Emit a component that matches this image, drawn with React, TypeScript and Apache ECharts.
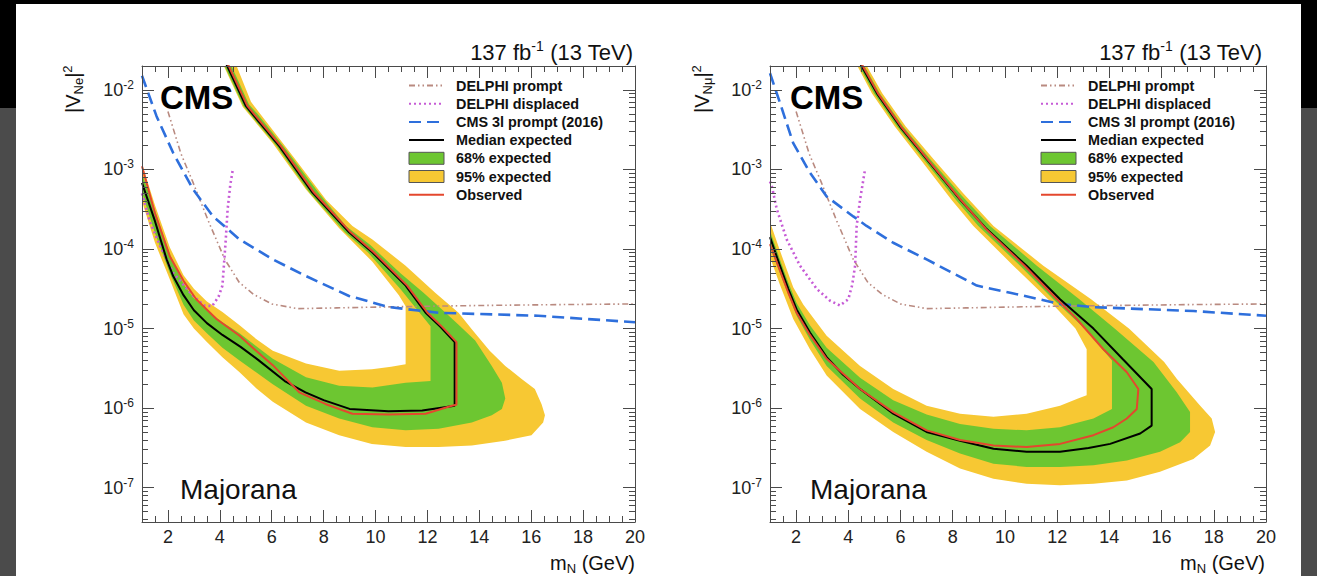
import React, { useEffect, useRef } from 'react';
import * as echarts from 'echarts';

type Pt = [number, number];

const FONT = '"Liberation Sans", Arial, Helvetica, sans-serif';
const FRAME = '#4a4a4a';
const YELLOW = '#f7c833';
const GREEN = '#6dc631';
const RED = '#e4472e';
const BLUE = '#2e6fdc';
const MAGENTA = '#c65bd6';
const BROWN = '#b98a80';

const X_MIN = 1;
const X_MAX = 20;
const Y_MIN = 3.7e-8;
const Y_MAX = 0.02;
const xTickLabels = [2, 4, 6, 8, 10, 12, 14, 16, 18, 20];
const yTickLabels = [1e-7, 1e-6, 1e-5, 1e-4, 1e-3, 1e-2];

const legendNames = [
  'DELPHI prompt',
  'DELPHI displaced',
  'CMS 3l prompt (2016)',
  'Median expected',
  '68% expected',
  '95% expected',
  'Observed',
];

// ---------- left panel (|V_Ne|^2) ----------
const leftMedian: Pt[] = [
  [1.0, 6.8e-4], [1.5, 2.24e-4], [1.95, 7.41e-5], [2.2, 4.57e-5], [2.6, 2.63e-5], [3.0, 1.7e-5],
  [3.5, 1.17e-5], [4.1, 8.32e-6], [4.8, 5.89e-6], [5.5, 3.98e-6], [6.5, 2.19e-6], [7.3, 1.58e-6],
  [8.0, 1.26e-6], [9.0, 9.77e-7], [10.5, 9.12e-7], [11.8, 9.33e-7], [12.6, 1.02e-6], [13.05, 1.07e-6],
  [13.05, 6.76e-6], [12.5, 1.05e-5], [11.93, 1.58e-5], [11.16, 3.47e-5], [9.87, 9.12e-5], [8.98, 1.62e-4],
  [7.57, 5.13e-4], [6.3, 1.95e-3], [5.3, 4.79e-3], [5.0, 6.31e-3], [4.17, 2.4e-2],
];
const leftObserved: Pt[] = [
  [1.0, 1.1e-3], [1.5, 2.82e-4], [2.07, 8.13e-5], [2.6, 3.98e-5], [3.09, 2.34e-5], [3.87, 1.32e-5],
  [4.76, 8.13e-6], [5.3, 5.62e-6], [6.04, 3.47e-6], [7.06, 1.58e-6], [8.09, 1.12e-6], [9.11, 8.51e-7],
  [10.5, 8.32e-7], [11.93, 8.51e-7], [12.94, 1.07e-6], [13.12, 1.1e-6], [13.12, 6.76e-6], [12.57, 1.05e-5],
  [12.0, 1.58e-5], [11.22, 3.47e-5], [9.93, 9.12e-5], [9.04, 1.62e-4], [7.63, 5.13e-4], [6.36, 1.95e-3],
  [5.36, 4.79e-3], [5.06, 6.31e-3], [4.23, 2.4e-2],
];
const leftOuter95: Pt[] = [
  [0.9, 5.01e-4], [1.0, 3.98e-4], [1.5, 1.2e-4], [2.07, 4.17e-5], [2.6, 1.51e-5], [3.0, 1.0e-5],
  [3.5, 6.76e-6], [4.1, 4.37e-6], [4.76, 2.82e-6], [5.4, 1.78e-6], [6.04, 1.2e-6], [7.32, 6.61e-7],
  [8.6, 4.57e-7], [9.86, 3.55e-7], [11.16, 3.24e-7], [12.43, 3.24e-7], [13.71, 3.39e-7], [14.99, 3.89e-7],
  [16.01, 4.57e-7], [16.46, 6.61e-7], [16.53, 8.13e-7], [16.4, 1.12e-6], [16.14, 1.74e-6], [15.62, 2.34e-6],
  [15.0, 3.39e-6], [14.4, 5.25e-6], [13.71, 9.77e-6], [13.2, 1.58e-5], [12.3, 2.82e-5], [11.16, 6.17e-5],
  [9.88, 1.32e-4], [9.11, 1.95e-4], [8.09, 4.17e-4], [6.81, 1.48e-3], [5.53, 5.13e-3], [5.2, 7.08e-3],
  [4.55, 2.4e-2],
];
const leftInner95: Pt[] = [
  [0.9, 1.38e-3], [1.0, 1.17e-3], [1.5, 3.55e-4], [2.07, 1.05e-4], [2.6, 4.68e-5], [3.0, 3.16e-5],
  [3.5, 2.19e-5], [4.1, 1.62e-5], [4.76, 1.1e-5], [5.4, 7.41e-6], [6.04, 5.25e-6], [7.32, 3.63e-6],
  [8.6, 2.95e-6], [9.86, 3.09e-6], [10.6, 3.31e-6], [11.16, 3.55e-6], [11.16, 1.91e-5], [10.9, 2.63e-5],
  [9.88, 6.92e-5], [8.6, 1.82e-4], [7.32, 5.62e-4], [6.04, 2.14e-3], [4.88, 6.17e-3], [4.04, 2.4e-2],
];
const leftOuter68: Pt[] = [
  [0.9, 6.31e-4], [1.0, 5.13e-4], [1.5, 1.58e-4], [2.07, 5.01e-5], [2.6, 2.0e-5], [3.0, 1.26e-5],
  [3.5, 8.71e-6], [4.1, 5.75e-6], [4.76, 3.98e-6], [6.04, 2.0e-6], [7.32, 1.07e-6], [8.6, 7.41e-7],
  [9.88, 5.75e-7], [11.16, 5.25e-7], [12.43, 5.5e-7], [13.71, 6.61e-7], [14.48, 8.13e-7], [14.87, 9.77e-7],
  [15.0, 1.32e-6], [14.87, 2.09e-6], [14.48, 3.39e-6], [13.84, 7.08e-6], [13.2, 1.12e-5], [12.7, 1.58e-5],
  [11.85, 2.82e-5], [10.95, 5.01e-5], [9.8, 1.12e-4], [8.86, 1.95e-4], [7.8, 5.13e-4], [6.55, 1.78e-3],
  [5.45, 5.01e-3], [5.12, 6.61e-3], [4.34, 2.4e-2],
];
const leftInner68: Pt[] = [
  [0.9, 1.05e-3], [1.0, 8.91e-4], [1.5, 3.02e-4], [2.07, 8.71e-5], [2.6, 3.63e-5], [3.0, 2.4e-5],
  [3.5, 1.7e-5], [4.1, 1.2e-5], [4.76, 8.71e-6], [6.04, 4.17e-6], [7.32, 2.45e-6], [8.6, 1.91e-6],
  [9.88, 1.82e-6], [11.16, 2.09e-6], [12.12, 2.19e-6], [12.12, 1.07e-5], [11.7, 1.58e-5], [10.95, 3.16e-5],
  [9.7, 9.12e-5], [8.82, 1.62e-4], [7.45, 5.13e-4], [6.2, 1.95e-3], [5.2, 4.79e-3], [4.9, 6.31e-3],
  [4.07, 2.4e-2],
];

// ---------- right panel (|V_Nmu|^2) ----------
const rightMedian: Pt[] = [
  [1.0, 1.41e-4], [1.38, 6.17e-5], [1.7, 3.16e-5], [2.02, 1.74e-5], [2.53, 8.91e-6], [3.17, 4.37e-6],
  [3.8, 2.63e-6], [4.45, 1.74e-6], [5.72, 8.51e-7], [7.0, 5.01e-7], [8.28, 3.89e-7], [9.56, 3.09e-7],
  [10.83, 2.82e-7], [12.11, 2.82e-7], [13.2, 3.16e-7], [14.03, 3.55e-7], [15.18, 4.79e-7], [15.62, 6.03e-7],
  [15.62, 1.74e-6], [14.5, 4.17e-6], [13.39, 1.0e-5], [12.11, 2.34e-5], [10.83, 6.17e-5], [9.3, 1.78e-4],
  [8.28, 4.17e-4], [7.0, 1.35e-3], [5.98, 3.47e-3], [5.09, 9.12e-3], [4.37, 2.4e-2],
];
const rightObserved: Pt[] = [
  [1.0, 1.15e-4], [1.38, 5.37e-5], [1.7, 2.82e-5], [2.02, 1.58e-5], [2.53, 8.32e-6], [3.17, 4.17e-6],
  [4.45, 1.74e-6], [5.72, 8.91e-7], [7.0, 5.25e-7], [8.28, 3.98e-7], [9.56, 3.39e-7], [10.83, 3.24e-7],
  [12.11, 3.55e-7], [13.39, 4.57e-7], [14.15, 5.75e-7], [14.67, 7.41e-7], [15.05, 9.77e-7], [15.11, 1.74e-6],
  [14.67, 2.82e-6], [13.77, 5.5e-6], [12.75, 1.32e-5], [11.9, 2.51e-5], [10.75, 6.17e-5], [9.28, 1.78e-4],
  [8.3, 4.17e-4], [7.03, 1.35e-3], [6.02, 3.47e-3], [5.13, 9.12e-3], [4.42, 2.4e-2],
];
const rightOuter95: Pt[] = [
  [0.9, 9.55e-5], [1.0, 7.94e-5], [1.38, 3.55e-5], [1.89, 1.32e-5], [2.53, 5.5e-6], [3.17, 2.57e-6],
  [4.45, 9.77e-7], [5.72, 5.01e-7], [7.0, 2.82e-7], [8.28, 1.74e-7], [9.56, 1.29e-7], [10.83, 1.12e-7],
  [12.11, 1.07e-7], [13.39, 1.12e-7], [14.67, 1.23e-7], [15.94, 1.58e-7], [17.22, 2.29e-7], [17.86, 3.39e-7],
  [18.05, 5.01e-7], [17.92, 7.41e-7], [17.48, 1.07e-6], [16.58, 2.34e-6], [16.1, 3.8e-6], [14.75, 1.0e-5],
  [13.3, 2.34e-5], [11.47, 6.17e-5], [9.56, 1.95e-4], [8.4, 5.01e-4], [7.26, 1.35e-3], [6.2, 3.47e-3],
  [5.3, 9.12e-3], [4.57, 2.4e-2],
];
const rightInner95: Pt[] = [
  [0.9, 2.51e-4], [1.0, 2.19e-4], [1.38, 9.55e-5], [1.89, 3.31e-5], [2.28, 2.0e-5], [3.17, 8.13e-6],
  [4.45, 3.39e-6], [5.72, 1.74e-6], [7.0, 1.07e-6], [8.28, 8.51e-7], [9.56, 7.76e-7], [10.83, 8.51e-7],
  [12.11, 1.07e-6], [12.8, 1.32e-6], [13.13, 1.45e-6], [13.13, 5.5e-6], [12.7, 1.0e-5], [11.65, 2.34e-5],
  [10.32, 6.17e-5], [8.79, 1.95e-4], [7.95, 4.17e-4], [6.75, 1.35e-3], [5.78, 3.47e-3], [4.9, 9.12e-3],
  [4.22, 2.4e-2],
];
const rightOuter68: Pt[] = [
  [0.9, 1.2e-4], [1.0, 1.05e-4], [1.38, 5.01e-5], [2.02, 1.45e-5], [2.53, 7.24e-6], [3.17, 3.39e-6],
  [4.45, 1.32e-6], [5.72, 6.61e-7], [7.0, 3.98e-7], [8.28, 2.69e-7], [9.56, 2.0e-7], [10.83, 1.82e-7],
  [12.11, 1.82e-7], [13.39, 1.91e-7], [14.67, 2.19e-7], [15.94, 2.82e-7], [16.71, 3.72e-7], [17.09, 5.01e-7],
  [17.09, 8.91e-7], [16.58, 1.58e-6], [15.69, 3.8e-6], [14.2, 1.0e-5], [12.85, 2.34e-5], [11.22, 6.17e-5],
  [9.43, 1.95e-4], [8.35, 4.68e-4], [7.13, 1.35e-3], [6.1, 3.47e-3], [5.2, 9.12e-3], [4.48, 2.4e-2],
];
const rightInner68: Pt[] = [
  [0.9, 1.91e-4], [1.0, 1.7e-4], [1.38, 7.41e-5], [1.7, 3.8e-5], [2.02, 2.09e-5], [2.53, 1.1e-5],
  [3.17, 5.75e-6], [4.45, 2.4e-6], [5.72, 1.26e-6], [7.0, 8.32e-7], [8.28, 6.31e-7], [9.56, 5.5e-7],
  [10.83, 5.25e-7], [12.11, 5.75e-7], [13.39, 7.41e-7], [14.1, 9.77e-7], [14.1, 3.98e-6], [13.05, 1.0e-5],
  [11.85, 2.34e-5], [10.58, 6.17e-5], [8.98, 1.95e-4], [8.12, 4.17e-4], [6.87, 1.35e-3], [5.87, 3.47e-3],
  [4.98, 9.12e-3], [4.28, 2.4e-2],
];

// ---------- earlier limits ----------
const delphiPrompt: Pt[] = [
  [2.0, 5.37e-3], [2.5, 1.58e-3], [2.95, 7.08e-4], [3.56, 2.24e-4], [4.19, 7.41e-5], [4.75, 3.8e-5],
  [5.3, 2.69e-5], [6.0, 2.04e-5], [7.0, 1.78e-5], [8.5, 1.82e-5], [10.0, 1.86e-5], [12.0, 1.91e-5],
  [14.0, 1.95e-5], [17.0, 2.0e-5], [20.0, 2.04e-5],
];
const delphiDisplacedE: Pt[] = [
  [1.0, 5.01e-4], [1.3, 2.24e-4], [1.69, 1.1e-4], [2.2, 5.01e-5], [2.97, 2.57e-5], [3.4, 1.95e-5],
  [3.7, 1.91e-5], [3.95, 2.51e-5], [4.1, 3.47e-5], [4.22, 1.2e-4], [4.3, 3.16e-4], [4.4, 6.31e-4],
  [4.5, 1.0e-3],
];
const delphiDisplacedMu: Pt[] = [
  [1.0, 7.08e-4], [1.07, 6.17e-4], [1.26, 3.16e-4], [1.64, 1.32e-4], [2.15, 6.17e-5], [2.79, 3.16e-5],
  [3.3, 2.24e-5], [3.68, 1.95e-5], [4.0, 2.34e-5], [4.15, 3.55e-5], [4.26, 6.17e-5], [4.32, 1.95e-4],
  [4.45, 4.17e-4], [4.64, 1.0e-3],
];
const cms3lE: Pt[] = [
  [1.0, 1.51e-2], [1.56, 4.68e-3], [2.2, 1.62e-3], [2.97, 5.62e-4], [3.74, 2.57e-4], [4.76, 1.32e-4],
  [6.04, 7.41e-5], [7.32, 4.57e-5], [8.98, 2.57e-5], [10.52, 1.86e-5], [12.43, 1.58e-5], [16.27, 1.45e-5],
  [20.0, 1.2e-5],
];
const cms3lMu: Pt[] = [
  [1.0, 1.62e-2], [1.38, 6.92e-3], [1.89, 2.14e-3], [2.53, 9.12e-4], [3.17, 4.57e-4], [4.19, 2.57e-4],
  [4.7, 1.95e-4], [5.72, 1.2e-4], [7.0, 7.41e-5], [8.92, 3.47e-5], [10.2, 2.82e-5], [12.11, 2.04e-5],
  [13.39, 1.86e-5], [17.22, 1.66e-5], [20.0, 1.45e-5],
];

// ---------- helpers ----------
const lg = Math.log10;
const LY_MIN = lg(Y_MIN);
const LY_MAX = lg(Y_MAX);
const toLog = (arr: Pt[]) => arr.map(([x, v]) => [x, lg(v)]);

const xMinor: number[] = [];
for (let i = 0; X_MIN + i * 0.5 <= X_MAX + 1e-9; i++) xMinor.push(X_MIN + i * 0.5);
const yMajor = yTickLabels.map((v) => Math.round(lg(v)));
const yMinor: number[] = [];
for (let n = -9; n <= -1; n++) {
  for (let k = 2; k <= 9; k++) {
    const l = lg(k) + n;
    if (l > LY_MIN && l < LY_MAX) yMinor.push(l);
  }
}

function tick(vals: number[], len: number) {
  return { show: true, inside: true, length: len, customValues: vals, lineStyle: { color: FRAME, width: 1 } };
}
const frameLine = { show: true, onZero: false, lineStyle: { color: FRAME, width: 1 } };
const noLine = { show: false, onZero: false };

function buildXAxes(grid: number) {
  const base = { type: 'value', gridIndex: grid, min: X_MIN, max: X_MAX, splitLine: { show: false }, z: 3 };
  return [
    {
      ...base, position: 'bottom', axisLine: frameLine, axisTick: tick(xTickLabels, 12),
      axisLabel: { show: true, customValues: xTickLabels, margin: 6, fontSize: 18, fontFamily: FONT, color: '#222' },
    },
    { ...base, position: 'bottom', axisLine: noLine, axisTick: tick(xMinor, 6), axisLabel: { show: false } },
    { ...base, position: 'top', axisLine: frameLine, axisTick: tick(xTickLabels, 12), axisLabel: { show: false } },
    { ...base, position: 'top', axisLine: noLine, axisTick: tick(xMinor, 6), axisLabel: { show: false } },
  ];
}

function buildYAxes(grid: number) {
  const base = { type: 'value', gridIndex: grid, min: LY_MIN, max: LY_MAX, splitLine: { show: false }, z: 3 };
  return [
    {
      ...base, position: 'left', axisLine: frameLine, axisTick: tick(yMajor, 12),
      axisLabel: {
        show: true, customValues: yMajor, margin: 8,
        formatter: (v: number) => `{b|10}{s|${Math.round(v)}}`,
        rich: {
          b: { fontSize: 18, fontFamily: FONT, color: '#222', lineHeight: 22 },
          s: { fontSize: 12, fontFamily: FONT, color: '#222', lineHeight: 12, verticalAlign: 'top' },
        },
      },
    },
    { ...base, position: 'left', axisLine: noLine, axisTick: tick(yMinor, 6), axisLabel: { show: false } },
    { ...base, position: 'right', axisLine: frameLine, axisTick: tick(yMajor, 12), axisLabel: { show: false } },
    { ...base, position: 'right', axisLine: noLine, axisTick: tick(yMinor, 6), axisLabel: { show: false } },
  ];
}

function bandSeries(name: string, outer: Pt[], inner: Pt[], color: string, ai: number) {
  const pts = [...outer, ...inner.slice().reverse()];
  return {
    type: 'custom',
    name,
    xAxisIndex: ai,
    yAxisIndex: ai,
    data: [[X_MIN, LY_MIN]],
    itemStyle: { color },
    clip: true,
    silent: true,
    z: 1,
    renderItem: (params: any, api: any) => {
      const cs = params.coordSys;
      return {
        type: 'polygon',
        shape: { points: pts.map(([x, v]) => api.coord([x, lg(v)])) },
        style: { fill: color, stroke: null },
        clipPath: { type: 'rect', shape: { x: cs.x, y: cs.y, width: cs.width, height: cs.height } },
      };
    },
  };
}

function lineSeries(name: string, arr: Pt[], color: string, width: number, type: any, ai: number, z = 2) {
  return {
    type: 'line',
    name,
    xAxisIndex: ai,
    yAxisIndex: ai,
    data: toLog(arr),
    showSymbol: false,
    symbol: 'none',
    clip: true,
    silent: true,
    z,
    lineStyle: { color, width, type },
    itemStyle: { color },
  };
}

function panelSeries(ai: number, d: any) {
  return [
    bandSeries(legendNames[5], d.o95, d.i95, YELLOW, ai),
    bandSeries(legendNames[4], d.o68, d.i68, GREEN, ai),
    lineSeries(legendNames[0], delphiPrompt, BROWN, 1.6, [6, 3, 1.5, 3, 1.5, 3], ai),
    lineSeries(legendNames[1], d.disp, MAGENTA, 2.6, [2, 3], ai),
    lineSeries(legendNames[2], d.cms, BLUE, 2.6, [12, 6], ai),
    lineSeries(legendNames[3], d.med, '#000000', 2, 'solid', ai),
    lineSeries(legendNames[6], d.obs, RED, 2, 'solid', ai, 2),
  ];
}

const legendData = legendNames.map((name) => {
  if (name === '68% expected') return { name, icon: 'rect', itemStyle: { color: GREEN, borderColor: '#555', borderWidth: 1 } };
  if (name === '95% expected') return { name, icon: 'rect', itemStyle: { color: YELLOW, borderColor: '#555', borderWidth: 1 } };
  return { name, itemStyle: { opacity: 0 } };
});

function legendAt(left: number) {
  return {
    left, top: 78, orient: 'vertical', padding: 0, itemWidth: 35, itemHeight: 12, itemGap: 3.2,
    selectedMode: false,
    textStyle: { fontFamily: FONT, fontWeight: 'bold', fontSize: 14.4, lineHeight: 15, color: '#111', padding: [0, 0, 0, 7] },
    data: legendData,
  };
}

function txt(x: number, y: number, style: any, extra: any = {}) {
  return { type: 'text', x, y, z: 10, silent: true, style: { fontFamily: FONT, fill: '#111', ...style }, ...extra };
}

function panelTexts(o: { cmsX: number; titleR: number; xNameR: number; yNameX: number; sub: string }) {
  const a = { fontSize: 20, fontFamily: FONT, fill: '#111', color: '#111', lineHeight: 24 };
  const small = { fontSize: 13, fontFamily: FONT, fill: '#111', color: '#111', lineHeight: 13 };
  return [
    txt(o.cmsX, 97, { text: 'CMS', fontSize: 33, fontWeight: 'bold', fill: '#000', align: 'left', verticalAlign: 'middle' }),
    txt(o.cmsX + 20, 489, { text: 'Majorana', fontSize: 28, fill: '#111', align: 'left', verticalAlign: 'middle' }),
    txt(o.titleR, 52, {
      text: '{a|137 fb}{s|-1}{a| (13 TeV)}', align: 'right', verticalAlign: 'middle',
      rich: {
        a: { fontSize: 22, fontFamily: FONT, fill: '#111', color: '#111', lineHeight: 26 },
        s: { fontSize: 14, fontFamily: FONT, fill: '#111', color: '#111', lineHeight: 14, verticalAlign: 'top' },
      },
    }),
    txt(o.xNameR, 563, {
      text: '{a|m}{b|N}{a| (GeV)}', align: 'right', verticalAlign: 'middle',
      rich: { a, b: { ...small, verticalAlign: 'bottom' } },
    }),
    txt(o.yNameX, 113, {
      text: `{a||V}{b|${o.sub}}{a||}{c|2}`, align: 'left', verticalAlign: 'middle',
      rich: { a, b: { ...small, verticalAlign: 'bottom' }, c: { ...small, verticalAlign: 'top' } },
    }, { rotation: Math.PI / 2 }),
  ];
}

export default function App() {
  const ref = useRef<HTMLDivElement>(null);

  useEffect(() => {
    if (!ref.current) return;
    const chart = echarts.init(ref.current, null, { renderer: 'svg' });
    const option: any = {
      animation: false,
      backgroundColor: '#ffffff',
      grid: [
        { left: 142, top: 66, width: 493, height: 456, containLabel: false, outerBoundsMode: 'none' },
        { left: 770, top: 66, width: 496, height: 456, containLabel: false, outerBoundsMode: 'none' },
      ],
      xAxis: [...buildXAxes(0), ...buildXAxes(1)],
      yAxis: [...buildYAxes(0), ...buildYAxes(1)],
      legend: [legendAt(408), legendAt(1040)],
      series: [
        ...panelSeries(0, {
          o95: leftOuter95, i95: leftInner95, o68: leftOuter68, i68: leftInner68,
          med: leftMedian, obs: leftObserved, disp: delphiDisplacedE, cms: cms3lE,
        }),
        ...panelSeries(4, {
          o95: rightOuter95, i95: rightInner95, o68: rightOuter68, i68: rightInner68,
          med: rightMedian, obs: rightObserved, disp: delphiDisplacedMu, cms: cms3lMu,
        }),
      ],
      graphic: [
        { type: 'rect', silent: true, shape: { x: 0, y: 0, width: 1317, height: 4 }, style: { fill: '#000' } },
        { type: 'rect', silent: true, shape: { x: 0, y: 0, width: 16, height: 108 }, style: { fill: '#000' } },
        { type: 'rect', silent: true, shape: { x: 0, y: 108, width: 16, height: 468 }, style: { fill: '#4b4b4b' } },
        { type: 'rect', silent: true, shape: { x: 1301, y: 0, width: 16, height: 108 }, style: { fill: '#000' } },
        { type: 'rect', silent: true, shape: { x: 1301, y: 108, width: 16, height: 468 }, style: { fill: '#4b4b4b' } },
        ...panelTexts({ cmsX: 160, titleR: 633, xNameR: 635, yNameX: 73, sub: 'Ne' }),
        ...panelTexts({ cmsX: 790, titleR: 1262, xNameR: 1265, yNameX: 702, sub: 'Nμ' }),
      ],
    };
    chart.setOption(option);
    return () => chart.dispose();
  }, []);

  return <div ref={ref} style={{ position: 'fixed', left: 0, top: 0, width: 1317, height: 576 }} />;
}
